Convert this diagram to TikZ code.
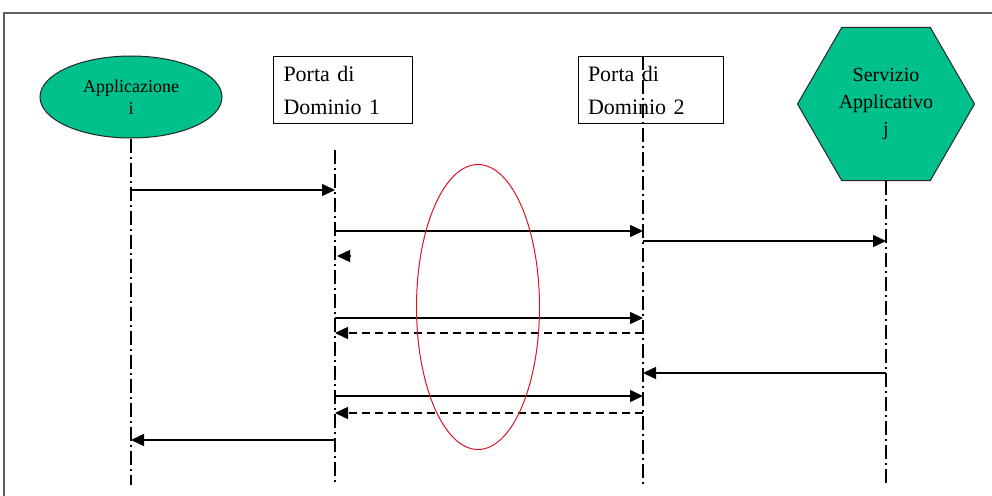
\documentclass[tikz,border=0pt]{standalone}
\usepackage{fontspec}
\setmainfont{Liberation Serif}
\usepackage{tikz}
\usetikzlibrary{shapes.geometric, arrows.meta, calc}
\definecolor{actorgreen}{RGB}{0,192,140}
\definecolor{framegray}{RGB}{95,95,95}
\definecolor{ringred}{RGB}{220,20,40}
\tikzset{
    actor/.style={draw=black!85, fill=actorgreen, line width=1pt, align=center, inner sep=0pt},
    porta/.style={draw, line width=1pt, minimum height=67pt, text width=119pt, inner xsep=10pt, align=left, font=\fontsize{22}{33}\selectfont},
    lifeline/.style={line width=1.2pt, dash pattern=on 14pt off 4pt on 2pt off 4pt},
    msg/.style={line width=1.5pt, -{Triangle[length=13pt, width=12pt]}},
    reply/.style={msg, dash pattern=on 8pt off 5pt}
}

\begin{document}
\begin{tikzpicture}[x=1pt, y=-1pt]
            \useasboundingbox (0,0) rectangle (992,495);
            \draw[framegray, line width=2pt] (4,13) rectangle (1000,503);
            
            % participants
            \node[actor, ellipse, minimum width=182pt, minimum height=82pt, font=\fontsize{18}{22}\selectfont] (appl) at (131,97) {Applicazione\\i};
            \node[porta] (pd1) at (343,90) {Porta di\\Dominio 1};
            \node[porta, text width=125pt] (pd2) at (650.5,90) {Porta di\\Dominio 2};
            \node[actor, regular polygon, regular polygon sides=6, minimum size=177pt, font=\fontsize{20}{27}\selectfont] (serv) at (886,104) {Servizio\\Applicativo\\j};
            
            % lifelines
            \coordinate (l1) at (appl.south);
            \coordinate (l2) at (335,150);
            \coordinate (l3) at (643,56);
            \coordinate (l4) at (serv.south);
            \coordinate (bot) at (0,485);
            \foreach \l in {l1,l2,l3,l4}
                \draw[lifeline] (\l) -- (\l |- bot);
            
            % messages
            \foreach \y/\a/\b/\s in {190/l1/l2/msg, 231/l2/l3/msg, 241/l3/l4/msg,
                                     318/l2/l3/msg, 333/l3/l2/reply, 373/l4/l3/msg,
                                     396/l2/l3/msg, 413/l3/l2/reply, 440/l2/l1/msg}
                \draw[\s] (\a |- 0,\y) -- (\b |- 0,\y);
            \coordinate (ack) at ($(l2 |- 0,256)+(2,0)$);
            \draw[msg] ($(ack)+(13,0)$) -- (ack);
            
            % red ring
            \node[draw=ringred, line width=1pt, ellipse, minimum width=123pt, minimum height=285pt] (ring) at (478,307) {};
        \end{tikzpicture}
\end{document}
